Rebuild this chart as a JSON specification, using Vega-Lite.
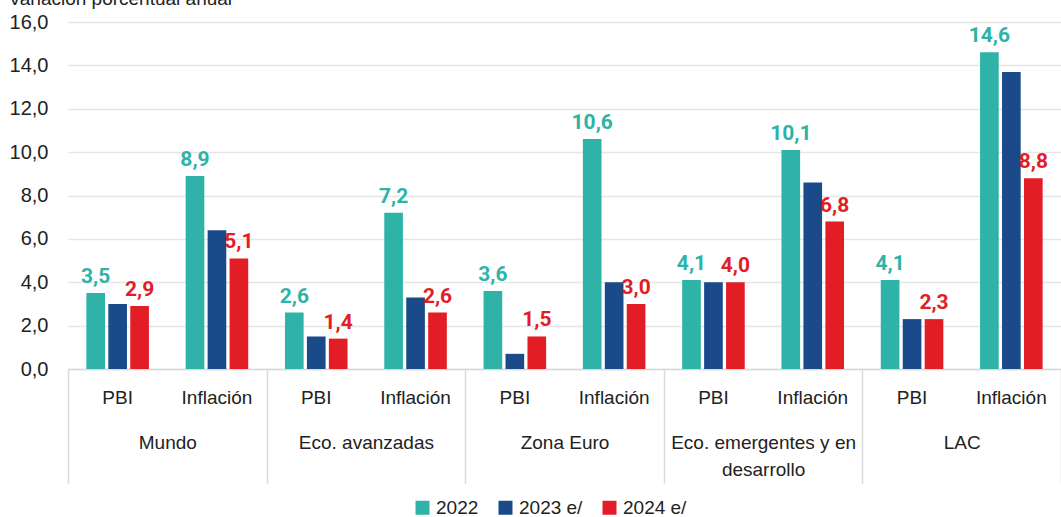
{
  "$schema": "https://vega.github.io/schema/vega-lite/v6.json",
  "width": 993,
  "height": 347,
  "autosize": {"type": "none"},
  "padding": {"left": 68, "top": 22, "right": 0, "bottom": 148},
  "config": {
    "locale": {"number": {"decimal": ",", "thousands": ".", "grouping": [3], "currency": ["", " €"]}},
    "view": {"stroke": null},
    "font": "Liberation Sans"
  },
  "data": {
    "values": [
      {"group": "Mundo", "sub": "PBI", "year": "2022", "value": 3.5},
      {"group": "Mundo", "sub": "PBI", "year": "2023 e/", "value": 3.0},
      {"group": "Mundo", "sub": "PBI", "year": "2024 e/", "value": 2.9},
      {"group": "Mundo", "sub": "Inflación", "year": "2022", "value": 8.9},
      {"group": "Mundo", "sub": "Inflación", "year": "2023 e/", "value": 6.4},
      {"group": "Mundo", "sub": "Inflación", "year": "2024 e/", "value": 5.1},
      {"group": "Eco. avanzadas", "sub": "PBI", "year": "2022", "value": 2.6},
      {"group": "Eco. avanzadas", "sub": "PBI", "year": "2023 e/", "value": 1.5},
      {"group": "Eco. avanzadas", "sub": "PBI", "year": "2024 e/", "value": 1.4},
      {"group": "Eco. avanzadas", "sub": "Inflación", "year": "2022", "value": 7.2},
      {"group": "Eco. avanzadas", "sub": "Inflación", "year": "2023 e/", "value": 3.3},
      {"group": "Eco. avanzadas", "sub": "Inflación", "year": "2024 e/", "value": 2.6},
      {"group": "Zona Euro", "sub": "PBI", "year": "2022", "value": 3.6},
      {"group": "Zona Euro", "sub": "PBI", "year": "2023 e/", "value": 0.7},
      {"group": "Zona Euro", "sub": "PBI", "year": "2024 e/", "value": 1.5},
      {"group": "Zona Euro", "sub": "Inflación", "year": "2022", "value": 10.6},
      {"group": "Zona Euro", "sub": "Inflación", "year": "2023 e/", "value": 4.0},
      {"group": "Zona Euro", "sub": "Inflación", "year": "2024 e/", "value": 3.0},
      {"group": "Eco. emergentes y en desarrollo", "sub": "PBI", "year": "2022", "value": 4.1},
      {"group": "Eco. emergentes y en desarrollo", "sub": "PBI", "year": "2023 e/", "value": 4.0},
      {"group": "Eco. emergentes y en desarrollo", "sub": "PBI", "year": "2024 e/", "value": 4.0},
      {"group": "Eco. emergentes y en desarrollo", "sub": "Inflación", "year": "2022", "value": 10.1},
      {"group": "Eco. emergentes y en desarrollo", "sub": "Inflación", "year": "2023 e/", "value": 8.6},
      {"group": "Eco. emergentes y en desarrollo", "sub": "Inflación", "year": "2024 e/", "value": 6.8},
      {"group": "LAC", "sub": "PBI", "year": "2022", "value": 4.1},
      {"group": "LAC", "sub": "PBI", "year": "2023 e/", "value": 2.3},
      {"group": "LAC", "sub": "PBI", "year": "2024 e/", "value": 2.3},
      {"group": "LAC", "sub": "Inflación", "year": "2022", "value": 14.6},
      {"group": "LAC", "sub": "Inflación", "year": "2023 e/", "value": 13.7},
      {"group": "LAC", "sub": "Inflación", "year": "2024 e/", "value": 8.8}
    ]
  },
  "layer": [
    {
      "transform": [{"calculate": "datum.group + '|' + datum.sub", "as": "cat"}],
      "mark": {"type": "bar"},
      "encoding": {
        "x": {
          "field": "cat", "type": "nominal",
          "scale": {
            "domain": ["Mundo|PBI", "Mundo|Inflación", "Eco. avanzadas|PBI", "Eco. avanzadas|Inflación", "Zona Euro|PBI", "Zona Euro|Inflación", "Eco. emergentes y en desarrollo|PBI", "Eco. emergentes y en desarrollo|Inflación", "LAC|PBI", "LAC|Inflación"],
            "paddingInner": 0.37, "paddingOuter": 0.185
          },
          "axis": {
            "orient": "bottom", "title": null, "labelExpr": "split(datum.value, '|')[1]",
            "ticks": false, "domain": true, "domainColor": "#d9d9d9", "domainWidth": 1.5,
            "labelFontSize": 19, "labelPadding": 19, "labelColor": "#222222", "labelAngle": 0,
            "labelOverlap": false, "grid": false
          }
        },
        "xOffset": {
          "field": "year", "type": "nominal",
          "scale": {"domain": ["2022", "2023 e/", "2024 e/"], "paddingInner": 0.15, "paddingOuter": 0}
        },
        "y": {
          "field": "value", "type": "quantitative",
          "scale": {"domain": [0, 16], "nice": false},
          "axis": {
            "title": "Variación porcentual anual", "titleAngle": 0, "titleAlign": "left",
            "titleBaseline": "alphabetic", "titleX": -60, "titleY": -18, "titleFontSize": 19,
            "titleFontWeight": "normal", "titleColor": "#222222",
            "values": [0, 2, 4, 6, 8, 10, 12, 14, 16], "format": ".1f",
            "labelFontSize": 20, "labelPadding": 20, "labelColor": "#222222",
            "ticks": false, "domain": false, "gridColor": "#e6e6e6", "gridWidth": 1.5
          }
        },
        "color": {
          "field": "year", "type": "nominal",
          "scale": {"domain": ["2022", "2023 e/", "2024 e/"], "range": ["#2fb3a8", "#1b4a8a", "#e31d25"]},
          "legend": {
            "title": null, "orient": "none", "legendX": 345, "legendY": 476, "direction": "horizontal",
            "symbolType": "square", "symbolSize": 196, "symbolStrokeWidth": 0, "symbolOpacity": 1,
            "labelFontSize": 19, "labelOffset": 4, "columnPadding": 17, "labelColor": "#222222"
          }
        }
      }
    },
    {
      "transform": [
        {"calculate": "datum.group + '|' + datum.sub", "as": "cat"},
        {"filter": "datum.year != '2023 e/'"}
      ],
      "mark": {"type": "text", "baseline": "alphabetic", "dy": -10, "font": "Roboto, Liberation Sans", "fontSize": 21, "fontWeight": "bold"},
      "encoding": {
        "x": {
          "field": "cat", "type": "nominal",
          "scale": {
            "domain": ["Mundo|PBI", "Mundo|Inflación", "Eco. avanzadas|PBI", "Eco. avanzadas|Inflación", "Zona Euro|PBI", "Zona Euro|Inflación", "Eco. emergentes y en desarrollo|PBI", "Eco. emergentes y en desarrollo|Inflación", "LAC|PBI", "LAC|Inflación"],
            "paddingInner": 0.37, "paddingOuter": 0.185
          },
          "axis": null
        },
        "xOffset": {
          "field": "year", "type": "nominal",
          "scale": {"domain": ["2022", "2023 e/", "2024 e/"], "paddingInner": 0.15, "paddingOuter": 0}
        },
        "y": {"field": "value", "type": "quantitative"},
        "text": {"field": "value", "type": "quantitative", "format": ".1f"},
        "color": {"field": "year", "type": "nominal", "legend": null}
      }
    },
    {
      "mark": {"type": "text", "opacity": 0},
      "encoding": {
        "x": {
          "field": "group", "type": "nominal",
          "scale": {
            "domain": ["Mundo", "Eco. avanzadas", "Zona Euro", "Eco. emergentes y en desarrollo", "LAC"],
            "paddingInner": 0, "paddingOuter": 0
          },
          "axis": {
            "orient": "bottom", "title": null, "tickBand": "extent",
            "ticks": true, "tickSize": 114, "tickColor": "#d9d9d9", "tickWidth": 1.5,
            "domain": false, "grid": false, "labelPadding": -50,
            "labelFontSize": 19, "labelAngle": 0, "labelLimit": 400, "labelLineHeight": 27,
            "labelBaseline": "top", "labelColor": "#222222", "labelOverlap": false,
            "labelExpr": "datum.value == 'Eco. emergentes y en desarrollo' ? ['Eco. emergentes y en', 'desarrollo'] : datum.value"
          }
        },
        "text": {"value": "."}
      }
    }
  ],
  "resolve": {"scale": {"x": "independent"}, "axis": {"x": "independent"}}
}
